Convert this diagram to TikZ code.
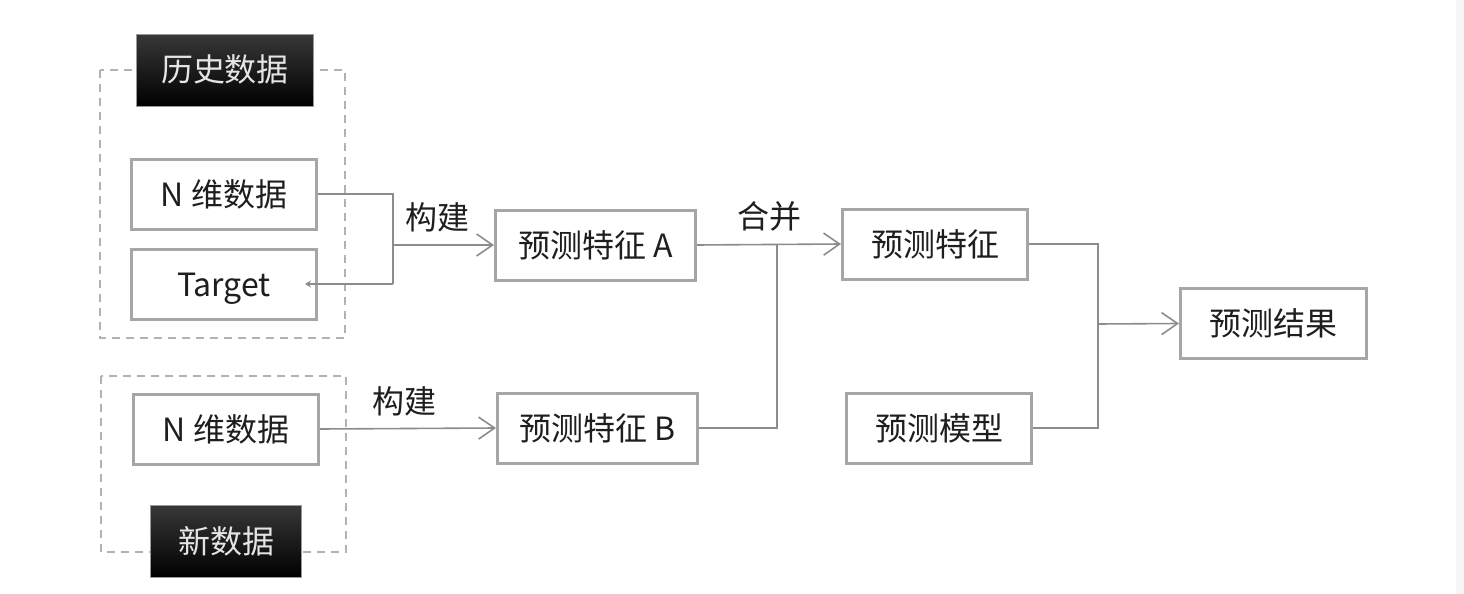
\documentclass[tikz,border=0pt]{standalone}
\usepackage{fontspec}
\setmainfont{Noto Sans CJK SC}
\usetikzlibrary{arrows.meta}
\definecolor{boxgray}{RGB}{166,166,166}
\definecolor{linegray}{RGB}{140,140,140}
\definecolor{txtgray}{RGB}{30,30,30}

\begin{document}
\begin{tikzpicture}[x=0.5pt, y=-0.5pt, font=\fontsize{16}{18}\selectfont,
    box/.style={
        draw=boxgray, line width=1.5pt, fill=white, text=txtgray,
        minimum width=92.5pt, minimum height=35pt, inner sep=0pt,
        text height=14pt, text depth=2pt
    },
    tag/.style={
        draw=black!40, line width=0.4pt, top color=black!78, bottom color=black,
        text=white!90!black, minimum height=36pt, inner sep=0pt,
        text height=14pt, text depth=2pt
    },
    group/.style={draw=black!30, line width=0.6pt, dash pattern=on 4pt off 3pt},
    wire/.style={-, draw=linegray, line width=0.8pt},
    signal/.style={wire, -{Straight Barb[length=8pt, width=11pt]}},
    back/.style={wire, -{Stealth[length=3pt, width=3.5pt]}},
    tlab/.style={text=txtgray, inner sep=2pt},
]
    \useasboundingbox (0,0) rectangle (1464,594);
    \fill[black!3] (1456,0) rectangle (1464,594);

    % dashed frames
    \draw[group] (100,70) rectangle (345,338);
    \draw[group] (101,376) rectangle (346,552);

    \node[tag, minimum width=88.6pt] (hist) at (225,70)  {历史数据};
    \node[tag, minimum width=75.6pt] (new)  at (226,541) {新数据};

    \node[box] (N1) at (224,194) {N 维数据};
    \node[box] (T)  at (224,284) {Target};
    \node[box] (N2) at (226,429) {N 维数据};

    \node[box, minimum width=100pt] (FA) at (595.5,245) {预测特征 A};
    \node[box, minimum width=100pt] (FB) at (597.5,428) {预测特征 B};
    \node[box] (F) at (935,244) {预测特征};
    \node[box] (M) at (939,428) {预测模型};
    \node[box, minimum width=93pt] (R) at (1273.5,323.5) {预测结果};

    \coordinate (jA) at (393,245);
    \coordinate (tin) at (305,284);
    \coordinate (jB) at (777,245);
    \coordinate (jR) at (1098,324);

    \draw[wire]   (N1.east) -| (jA |- T.east);
    \draw[back]   (jA |- T.east) -- (tin);
    \draw[signal] (jA) -- (FA.west) node[tlab, above=4pt, midway, xshift=-3pt] {构建};
    \draw[signal] (N2.east) -- (FB.west) node[tlab, above=4pt, midway, xshift=-2pt] {构建};
    \draw[signal] (FA.east) -- (F.west) node[tlab, above=4pt, midway] {合并};
    \draw[wire]   (FB.east) -| (jB);
    \draw[wire]   (F.east) -| (jR) |- (M.east);
    \draw[signal] (jR) -- (R.west);

\end{tikzpicture}
\end{document}
